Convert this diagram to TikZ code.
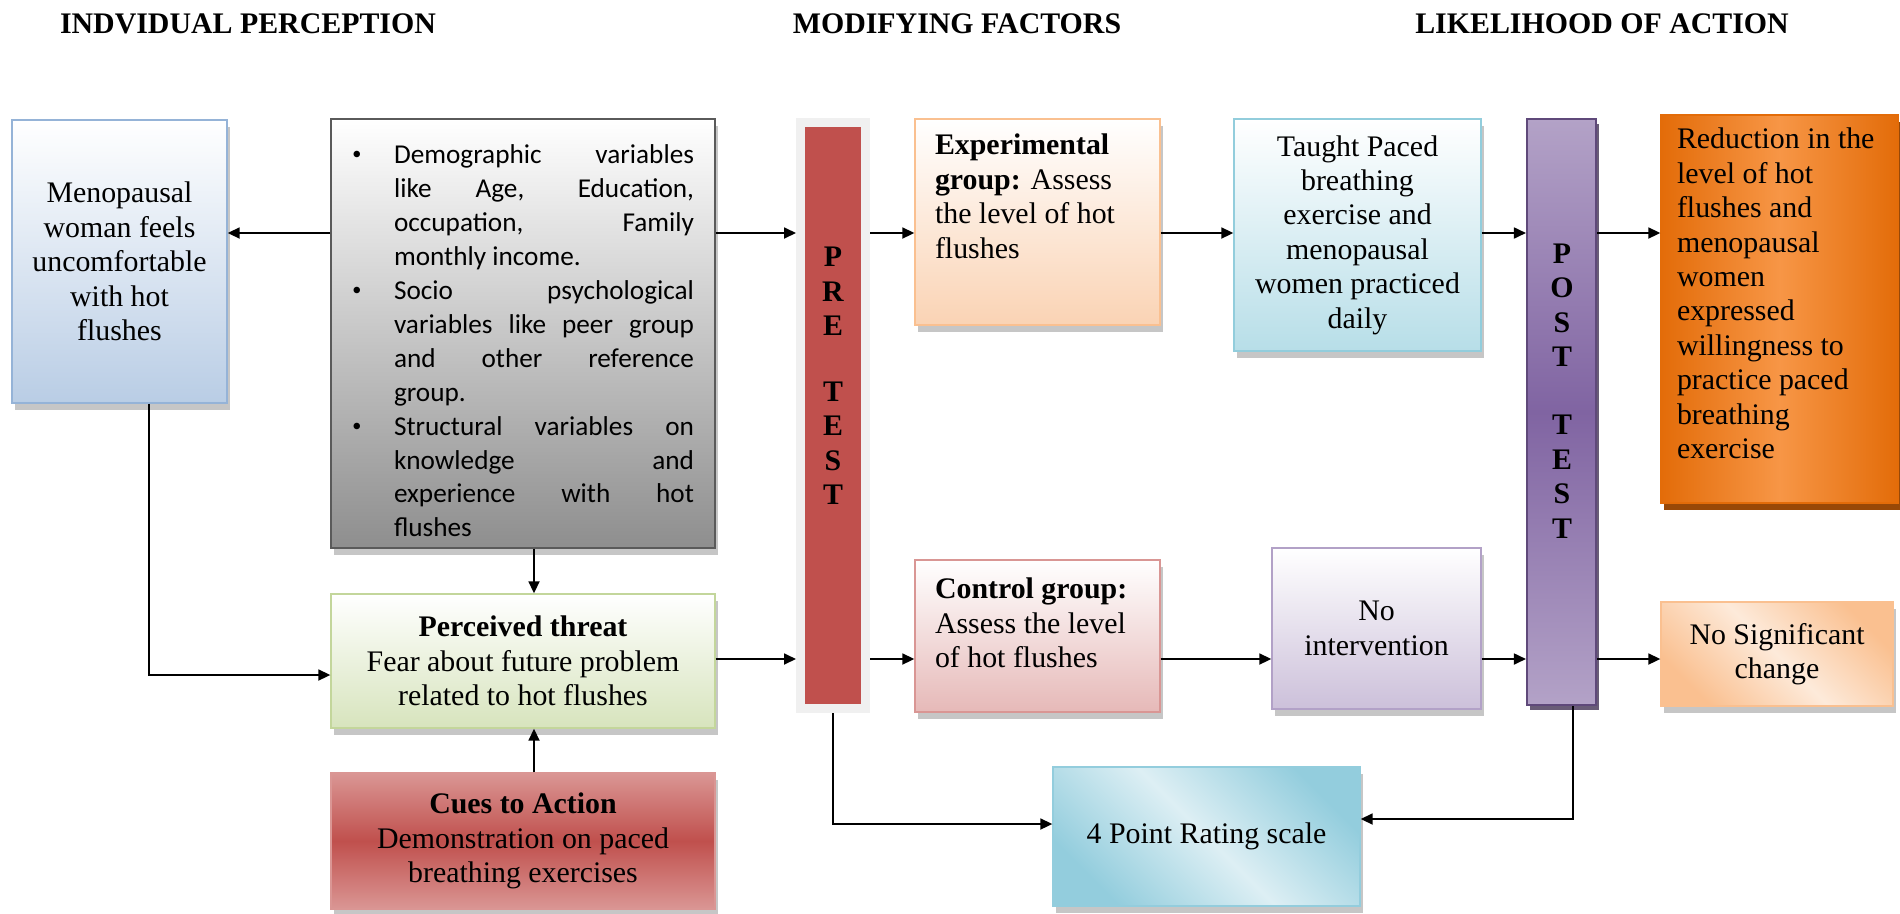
\documentclass[tikz,border=0pt]{standalone}
\usepackage{fontspec}
\setmainfont{Liberation Serif}
\newfontfamily\calibri{Carlito}
\usepackage{enumitem}
\usetikzlibrary{arrows.meta,shadows}

\definecolor{menoBlue}{HTML}{B9CDE5}
\definecolor{menoLine}{HTML}{95B3D7}
\definecolor{demoGrey}{HTML}{8E8E8E}
\definecolor{demoLine}{HTML}{5A5A5A}
\definecolor{threatGreen}{HTML}{D7E4BD}
\definecolor{threatLine}{HTML}{C3D69B}
\definecolor{cuesRed}{HTML}{C0504D}
\definecolor{cuesPink}{HTML}{DA9694}
\definecolor{preRed}{HTML}{C0504D}
\definecolor{preFrame}{HTML}{F0F0F0}
\definecolor{experPeach}{HTML}{FAD3B4}
\definecolor{experLine}{HTML}{FAC090}
\definecolor{taughtBlue}{HTML}{B7DEE8}
\definecolor{taughtLine}{HTML}{92CDDC}
\definecolor{postLight}{HTML}{B3A2C7}
\definecolor{postDark}{HTML}{8064A2}
\definecolor{postLine}{HTML}{5F497A}
\definecolor{reduceDark}{HTML}{E36C09}
\definecolor{reduceLight}{HTML}{F79646}
\definecolor{reduceShade}{HTML}{984807}
\definecolor{controlPink}{HTML}{E6B9B8}
\definecolor{controlLine}{HTML}{D99694}
\definecolor{nointvLilac}{HTML}{CCC0DA}
\definecolor{nointvLine}{HTML}{B2A1C7}
\definecolor{nosigPeach}{HTML}{FAC090}
\definecolor{nosigLight}{HTML}{FDEADA}
\definecolor{scaleBlue}{HTML}{93CDDD}
\definecolor{scaleLight}{HTML}{DDEFF4}

\newcommand{\topblock}[3]{\begin{minipage}[t][#1][t]{#2}\raggedright #3\end{minipage}}

\tikzset{
  box/.style={rectangle, draw, line width=0.8pt, inner sep=0pt,
    drop shadow={shadow xshift=0.06cm, shadow yshift=-0.14cm, opacity=0.45, fill=black!50}},
  heading/.style={font=\fontsize{17}{19.6}\selectfont\bfseries},
  menobox/.style={box, align=center, draw=menoLine, top color=white, bottom color=menoBlue},
  demobox/.style={box, draw=demoLine, top color=white, bottom color=demoGrey,
    text width=6.84cm, align=justify, inner xsep=0.42cm,
    font=\calibri\fontsize{15.5}{19.3}\selectfont},
  threatbox/.style={box, align=center, draw=threatLine, top color=white, bottom color=threatGreen},
  cuesbox/.style={box, align=center, draw=cuesPink, top color=cuesPink, bottom color=cuesPink, middle color=cuesRed},
  testbar/.style={rectangle, inner sep=0pt},
  testtext/.style={align=center, font=\fontsize{17}{19.6}\selectfont\bfseries},
  experbox/.style={box, draw=experLine, top color=white, bottom color=experPeach},
  taughtbox/.style={box, align=center, draw=taughtLine, top color=white, bottom color=taughtBlue},
  reducebox/.style={box, draw=reduceDark, left color=reduceDark, right color=reduceDark, middle color=reduceLight,
    drop shadow={shadow xshift=0.06cm, shadow yshift=-0.14cm, opacity=1, fill=reduceShade}},
  controlbox/.style={box, draw=controlLine, top color=white, bottom color=controlPink},
  nointvbox/.style={box, align=center, draw=nointvLine, top color=white, bottom color=nointvLilac},
  nosigbox/.style={box, align=center, draw=nosigPeach, top color=nosigPeach, bottom color=nosigPeach, middle color=nosigLight, shading angle=-45},
  scalebox/.style={box, align=center, draw=scaleBlue, top color=scaleBlue, bottom color=scaleBlue, middle color=scaleLight, shading angle=-45}
}

\begin{document}
\begin{tikzpicture}[x=0.02cm, y=-0.02cm, font=\fontsize{17}{19.6}\selectfont, >={Triangle[length=0.24cm,width=0.22cm]}, line width=1pt]

\useasboundingbox (0,0) rectangle (1900,913);

\node (headperc) at (248,24) [heading] {INDVIDUAL PERCEPTION};
\node (headmod) at (957,24) [heading] {MODIFYING FACTORS};
\node (headlike) at (1602,24) [heading] {LIKELIHOOD OF ACTION};

\node (meno) at (119.5,261.5) [menobox, minimum width=4.3cm, minimum height=5.66cm] {Menopausal\\woman feels\\uncomfortable\\with hot\\flushes};

\node (demo) at (523,333.5) [demobox, minimum height=8.58cm] {%
\begin{itemize}[leftmargin=0.84cm, labelwidth=0.24cm, labelsep=0.6cm, align=left, itemsep=0pt, topsep=0pt, parsep=0pt, partopsep=0pt]
\item Demographic variables\linebreak like Age, Education,\linebreak occupation, Family\linebreak monthly income.
\item Socio psychological\linebreak variables like peer group\linebreak and other reference\linebreak group.
\item Structural variables on\linebreak knowledge and\linebreak experience with hot\linebreak flushes
\end{itemize}};

\node (threat) at (523,661) [threatbox, minimum width=7.68cm, minimum height=2.68cm] {\textbf{Perceived threat}\\Fear about future problem\\related to hot flushes};
\node (cues) at (523,841) [cuesbox, minimum width=7.68cm, minimum height=2.72cm] {\textbf{Cues to Action}\\Demonstration on paced\\breathing exercises};

\node (pre) at (833,415.5) [testbar, fill=preRed, draw=preFrame, line width=0.18cm, minimum width=1.3cm, minimum height=11.74cm] {};
\node (pretxt) at (833,376) [testtext] {P\\R\\E\\[0.63cm]T\\E\\S\\T};

\node (exper) at (1037.5,222) [experbox, inner xsep=0.4cm, inner ysep=0.3cm] {\topblock{3.52cm}{4.1cm}{\textbf{Experimental}\\\textbf{group:} Assess\\the level of hot\\flushes}};
\node (control) at (1037.5,636) [controlbox, inner xsep=0.4cm, inner ysep=0.36cm] {\topblock{2.32cm}{4.1cm}{\textbf{Control group:}\\Assess the level\\of hot flushes}};

\node (taught) at (1357.5,235) [taughtbox, minimum width=4.94cm, minimum height=4.64cm] {Taught Paced\\breathing\\exercise and\\menopausal\\women practiced\\daily};
\node (nointv) at (1376.5,628.5) [nointvbox, minimum width=4.18cm, minimum height=3.22cm] {No\\intervention};

\node (post) at (1561.5,412) [testbar, draw=postLine, line width=1.2pt, top color=postLight, bottom color=postLight, middle color=postDark, minimum width=1.38cm, minimum height=11.72cm, drop shadow={shadow xshift=0.05cm, shadow yshift=-0.1cm, opacity=0.8, fill=postLine!70!black}] {};
\node (posttxt) at (1562,391) [testtext] {P\\O\\S\\T\\[0.67cm]T\\E\\S\\T};

\node (reduce) at (1779.5,309) [reducebox, inner xsep=0.32cm, inner ysep=0.26cm] {\topblock{7.24cm}{4.1cm}{Reduction in the\\level of hot\\flushes and\\menopausal\\women\\expressed\\willingness to\\practice paced\\breathing\\exercise}};
\node (nosig) at (1777,654) [nosigbox, minimum width=4.64cm, minimum height=2.08cm] {No Significant\\change};

\node (scale) at (1206.5,836.5) [scalebox, minimum width=6.14cm, minimum height=2.78cm] {4 Point Rating scale};

\coordinate (toprow) at (0,233);
\coordinate (midrow) at (0,659);
\coordinate (spine) at (534,0);
\coordinate (menodrop) at (149,675);
\coordinate (predrop) at (0,824);
\coordinate (postdrop) at (1573,819);

\draw [->] (demo.west |- toprow) -- (meno.east |- toprow);
\draw [->] (demo.east |- toprow) -- (pre.west |- toprow);
\draw [->] (pre.east |- toprow) -- (exper.west |- toprow);
\draw [->] (exper.east |- toprow) -- (taught.west |- toprow);
\draw [->] (taught.east |- toprow) -- (post.west |- toprow);
\draw [->] (post.east |- toprow) -- (reduce.west |- toprow);

\draw [->] (demo.south -| spine) -- (threat.north -| spine);
\draw [->] (cues.north -| spine) -- (threat.south -| spine);
\draw [->] (meno.south -| menodrop) |- (threat.west |- menodrop);

\draw [->] (threat.east |- midrow) -- (pre.west |- midrow);
\draw [->] (pre.east |- midrow) -- (control.west |- midrow);
\draw [->] (control.east |- midrow) -- (nointv.west |- midrow);
\draw [->] (nointv.east |- midrow) -- (post.west |- midrow);
\draw [->] (post.east |- midrow) -- (nosig.west |- midrow);

\draw [->] (pre.south) |- (scale.west |- predrop);
\draw [->] (post.south -| postdrop) |- (scale.east |- postdrop);

\end{tikzpicture}
\end{document}
